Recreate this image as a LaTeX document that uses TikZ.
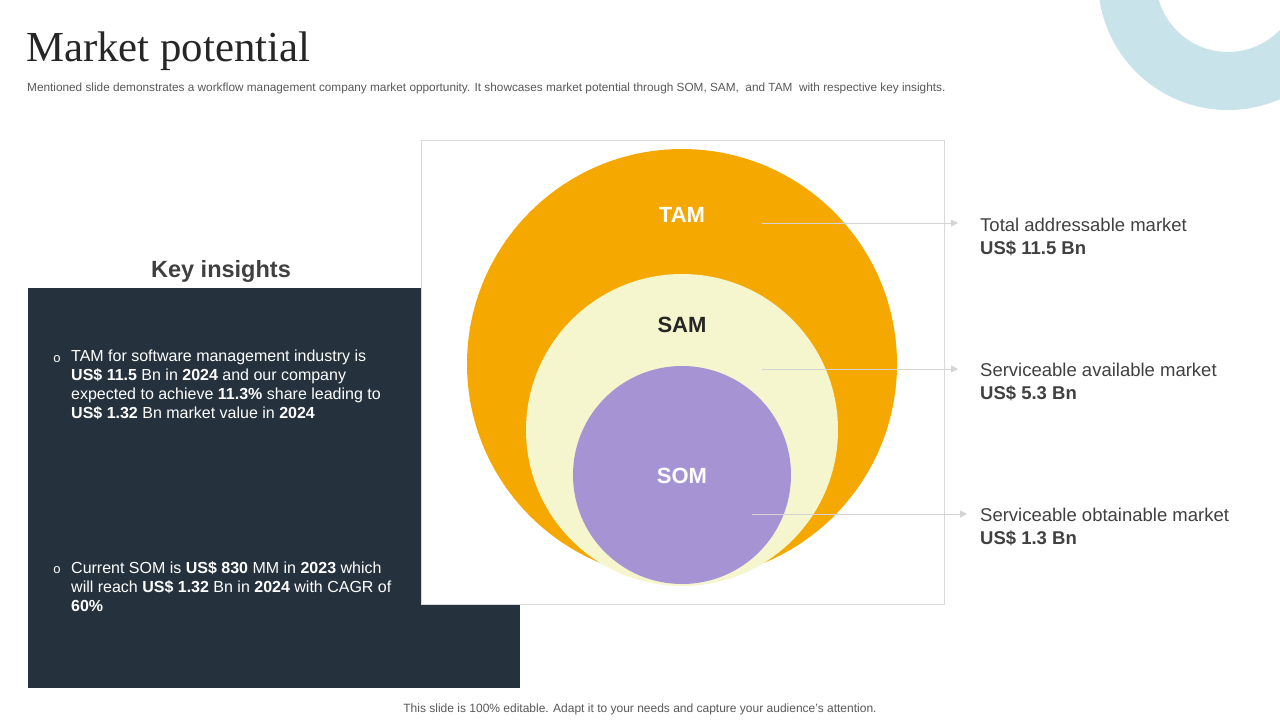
\documentclass[tikz,border=0pt]{standalone}
\usepackage{fontspec}
\setmainfont{Liberation Sans}
\newfontfamily\titlefont{Liberation Serif}
\usetikzlibrary{arrows.meta}
\definecolor{tamc}{HTML}{F5A800}
\definecolor{samc}{HTML}{F5F5CE}
\definecolor{somc}{HTML}{A693D4}
\definecolor{panel}{HTML}{25323D}
\definecolor{ringc}{HTML}{C9E3EA}
\definecolor{titlec}{HTML}{262626}
\definecolor{subc}{HTML}{595959}
\definecolor{labc}{HTML}{404040}
\definecolor{boxc}{HTML}{D9D9D9}
\definecolor{arrc}{HTML}{D4D4D4}
\tikzset{
  market/.style={circle, inner sep=0pt, draw=none},
  arr/.style={draw=arrc, line width=0.8pt, -{Triangle[width=7pt,length=7pt]}},
  biglabel/.style={font=\bfseries\fontsize{22}{26}\selectfont, inner sep=0pt},
  sidelabel/.style={anchor=north west, inner sep=0pt, align=left, text=labc, font=\fontsize{18.5}{23}\selectfont},
  bullettext/.style={anchor=north west, inner sep=0pt, align=left, text=white, font=\fontsize{16}{19}\selectfont},
  bulletmark/.style={inner sep=0pt, text=white, font=\fontsize{13}{13}\selectfont},
}
\begin{document}
\begin{tikzpicture}[x=1pt,y=-1pt]
\useasboundingbox (0,0) rectangle (1280,720);
\fill[white] (0,0) rectangle (1280,720);
% decorative ring
\begin{scope}
\clip (0,0) rectangle (1280,720);
\fill[ringc, even odd rule] (1228,-20) circle (130pt) (1228,-20) circle (72pt);
\end{scope}
% title
\node[anchor=base west, inner sep=0pt, text=titlec, font=\titlefont\fontsize{42.8}{46}\selectfont] (title) at (26,61) {Market potential};
\node[anchor=base west, inner sep=0pt, text=subc, font=\fontsize{11.8}{13}\selectfont] (sub) at (27,91) {Mentioned slide demonstrates a workflow management company market opportunity. It showcases market potential through SOM, SAM,\ \ and TAM\ \ with respective key insights.};
% key insights panel
\node[anchor=base, inner sep=0pt, text=labc, font=\bfseries\fontsize{23.5}{27}\selectfont] (kh) at (221,277) {Key insights};
\fill[panel] (28,288) rectangle (520,688);
% chart box
\node[draw=boxc, fill=white, line width=0.8pt, minimum width=523pt, minimum height=464pt, inner sep=0pt, anchor=north west] (box) at (421,140) {};
% circles
\node[market, fill=tamc, minimum size=430pt] (tam) at (682,364) {};
\node[market, fill=samc, minimum size=312pt] (sam) at (682,430) {};
\node[market, fill=somc, minimum size=218pt] (som) at (682,475) {};
\node[biglabel, text=white] (tamt) at (682,215) {TAM};
\node[biglabel, text=black!85] (samt) at (682,325) {SAM};
\node[biglabel, text=white] (somt) at (682,476) {SOM};
% connectors
\coordinate (tamS) at (762,223);
\coordinate (tamE) at (958,223);
\coordinate (samS) at (762,369);
\coordinate (samE) at (958,369);
\coordinate (somS) at (752,514);
\coordinate (somE) at (967,514);
\draw[arr] (tamS) -- (tamE);
\draw[arr] (samS) -- (samE);
\draw[arr] (somS) -- (somE);
% side labels
\node[sidelabel] (tamL) at (980,217.5) {Total addressable market\\\textbf{US\$ 11.5 Bn}};
\node[sidelabel] (samL) at (980,362.5) {Serviceable available market\\\textbf{US\$ 5.3 Bn}};
\node[sidelabel] (somL) at (980,507.5) {Serviceable obtainable market\\\textbf{US\$ 1.3 Bn}};
% bullets
\node[bulletmark] (b1) at (57,359) {o};
\node[bullettext] (t1) at (71,350) {TAM for software management industry is\\\textbf{US\$ 11.5} Bn in \textbf{2024} and our company\\expected to achieve \textbf{11.3\%} share leading to\\\textbf{US\$ 1.32} Bn market value in \textbf{2024}};
\node[bulletmark] (b2) at (57,570) {o};
\node[bullettext] (t2) at (71,561) {Current SOM is \textbf{US\$ 830} MM in \textbf{2023} which\\will reach \textbf{US\$ 1.32} Bn in \textbf{2024} with CAGR of\\\textbf{60\%}};
% footer
\node[anchor=base, inner sep=0pt, text=subc, font=\fontsize{12}{13}\selectfont] (foot) at (640,712) {This slide is 100\% editable. Adapt it to your needs and capture your audience's attention.};
\end{tikzpicture}
\end{document}
